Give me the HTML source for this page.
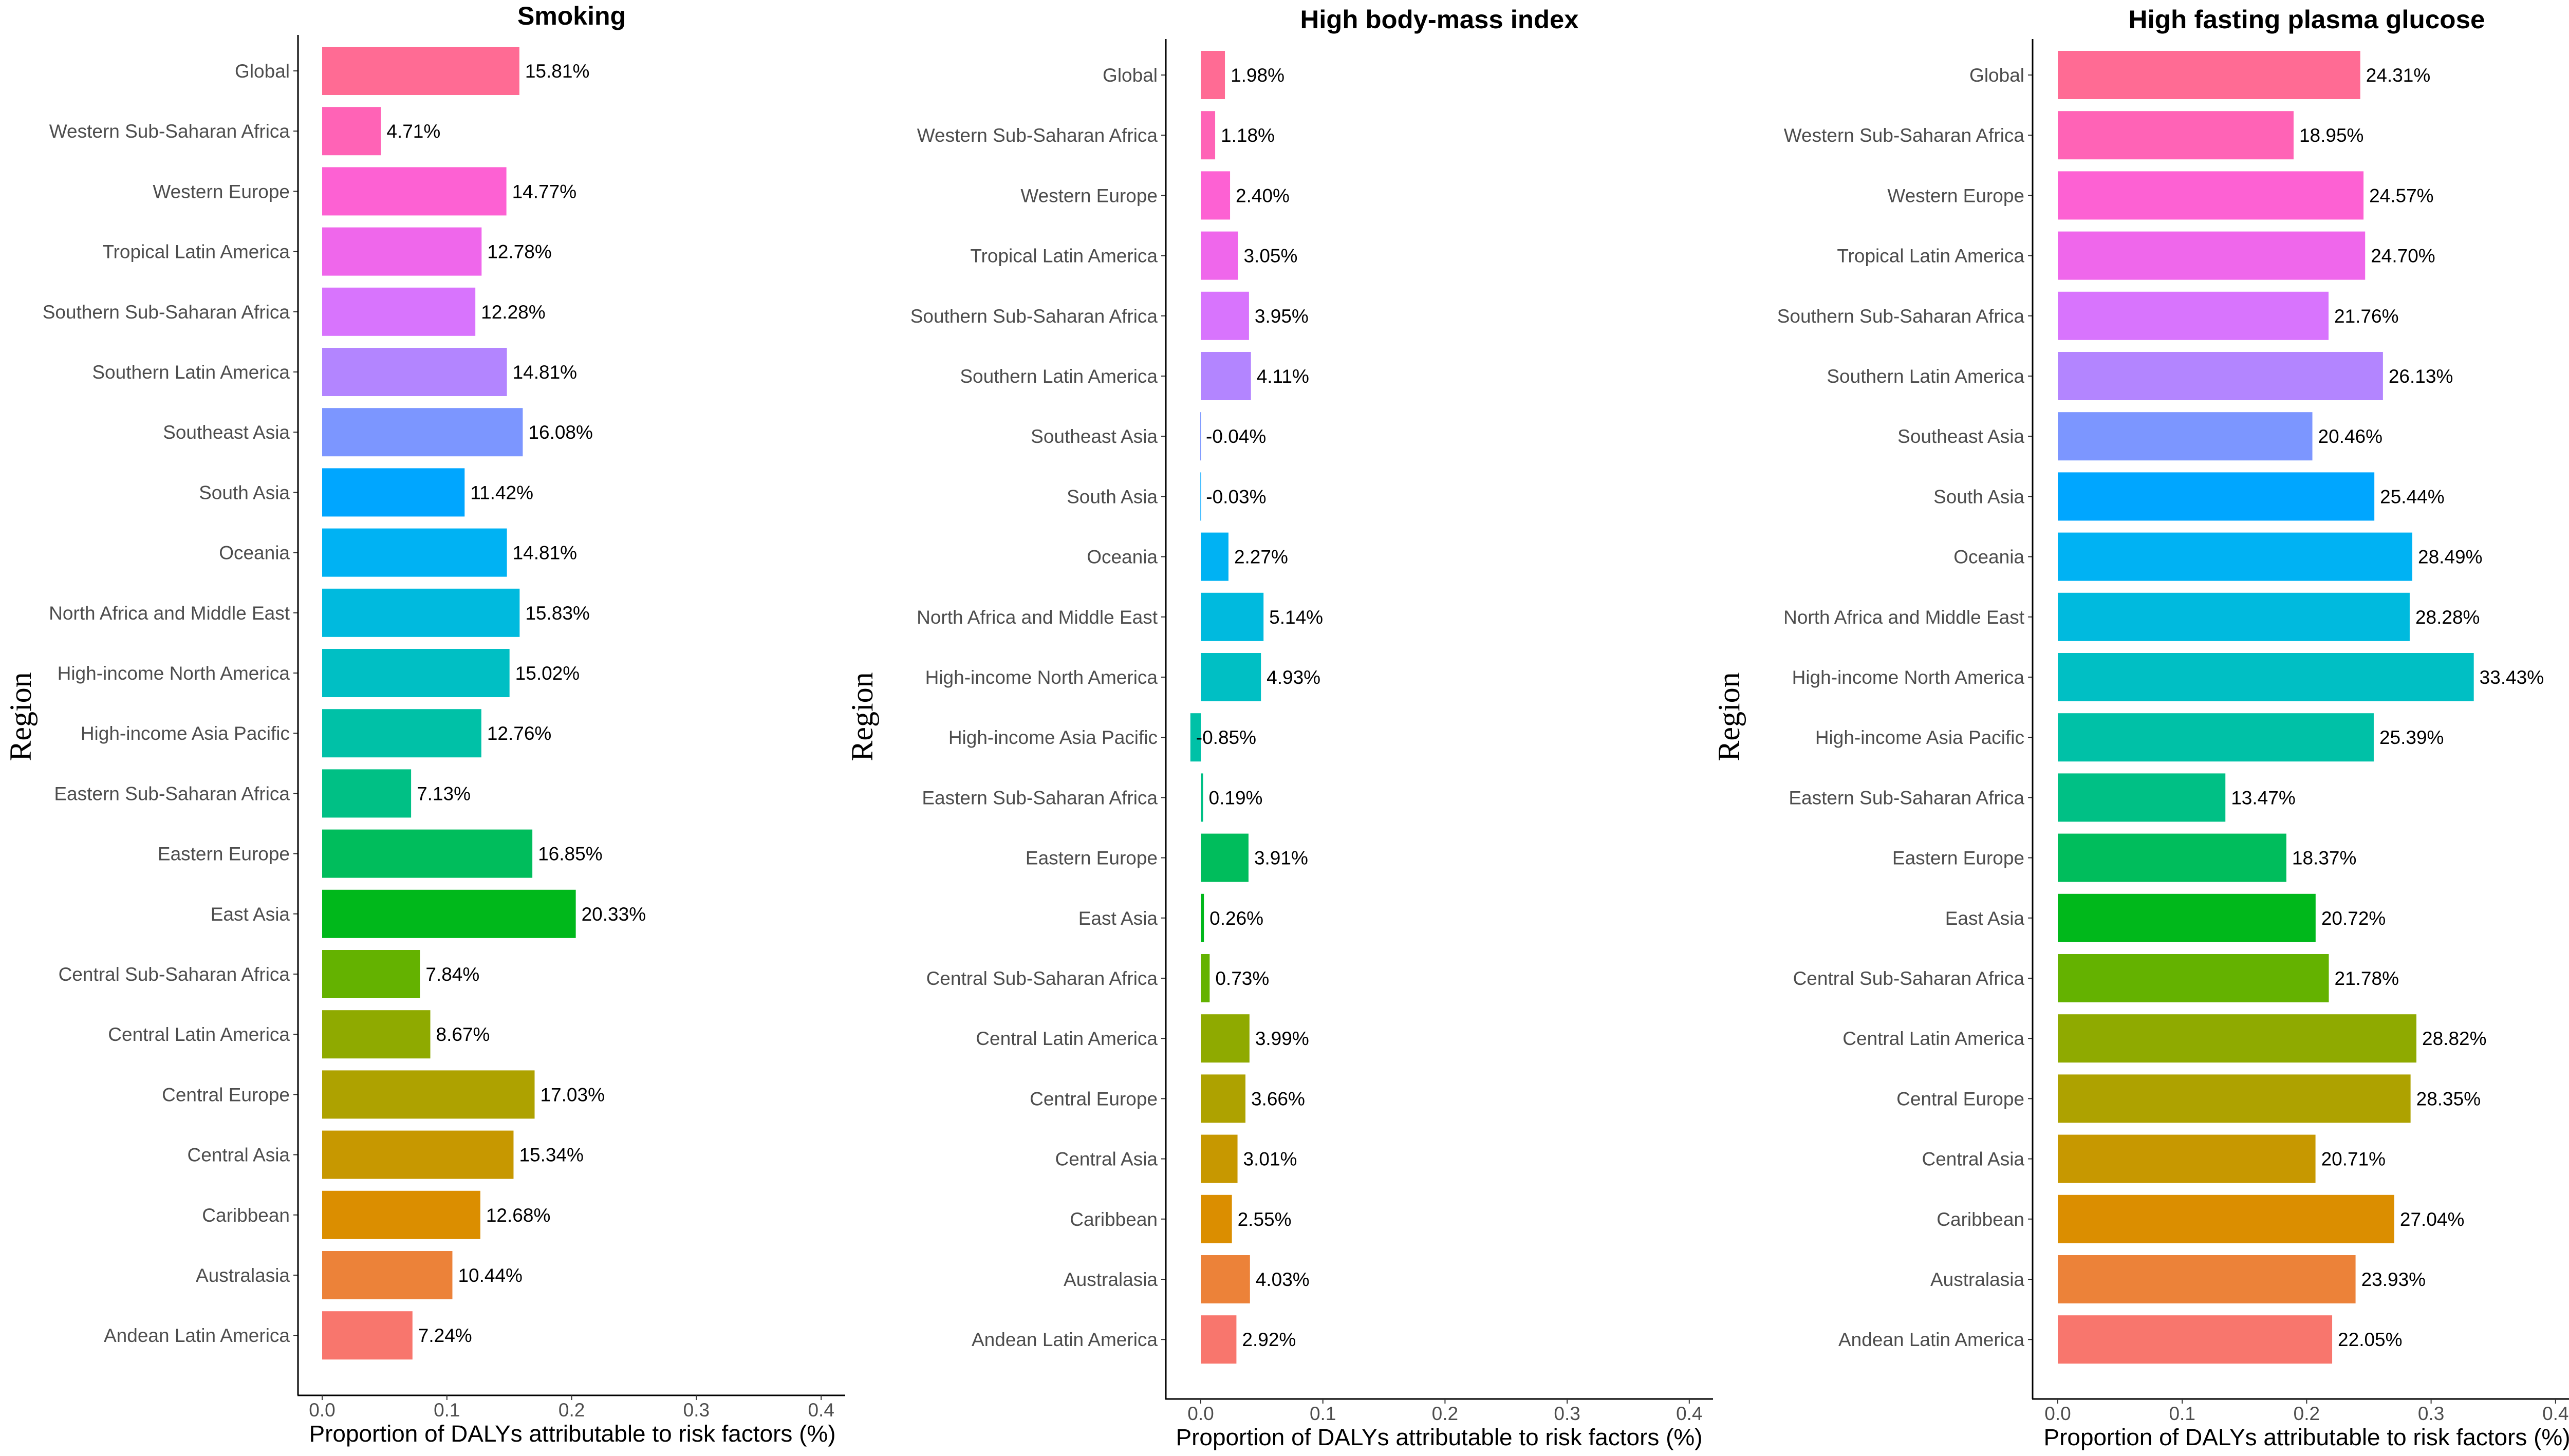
<!DOCTYPE html>
<html><head><meta charset="utf-8"><style>
html,body{margin:0;padding:0;background:#fff;}
svg{display:block;}
</style></head><body>
<svg id="chart" width="5033" height="2834" viewBox="0 0 5033 2834" xmlns="http://www.w3.org/2000/svg"></svg>
<script>
const categories = ["Global","Western Sub-Saharan Africa","Western Europe","Tropical Latin America","Southern Sub-Saharan Africa","Southern Latin America","Southeast Asia","South Asia","Oceania","North Africa and Middle East","High-income North America","High-income Asia Pacific","Eastern Sub-Saharan Africa","Eastern Europe","East Asia","Central Sub-Saharan Africa","Central Latin America","Central Europe","Central Asia","Caribbean","Australasia","Andean Latin America"];
const smokingValues = [15.81,4.71,14.77,12.78,12.28,14.81,16.08,11.42,14.81,15.83,15.02,12.76,7.13,16.85,20.33,7.84,8.67,17.03,15.34,12.68,10.44,7.24];
const bmiValues = [1.98,1.18,2.40,3.05,3.95,4.11,-0.04,-0.03,2.27,5.14,4.93,-0.85,0.19,3.91,0.26,0.73,3.99,3.66,3.01,2.55,4.03,2.92];
const glucoseValues = [24.31,18.95,24.57,24.70,21.76,26.13,20.46,25.44,28.49,28.28,33.43,25.39,13.47,18.37,20.72,21.78,28.82,28.35,20.71,27.04,23.93,22.05];
const panelTitles = ["Smoking","High body-mass index","High fasting plasma glucose"];
const xTicks = [0,0.1,0.2,0.3,0.4];
const xTickLabels = ["0.0","0.1","0.2","0.3","0.4"];

const NS = "http://www.w3.org/2000/svg";
const svg = document.getElementById('chart');
function mk(tag, attrs, parent){ const e=document.createElementNS(NS,tag); for(const k in attrs) e.setAttribute(k,attrs[k]); (parent||svg).appendChild(e); return e; }

function hcl(h){ const L=65,C=100; const hr=h*Math.PI/180; const u=C*Math.cos(hr), v=C*Math.sin(hr);
  const Xn=95.047,Yn=100,Zn=108.883; const d=Xn+15*Yn+3*Zn; const un=4*Xn/d, vn=9*Yn/d;
  const Y=Yn*Math.pow((L+16)/116,3); const up=u/(13*L)+un, vp=v/(13*L)+vn;
  const X=9*Y*up/(4*vp); const Z=-X/3-5*Y+3*Y/vp;
  const x=X/100,y=Y/100,z=Z/100;
  let r=3.240479*x-1.537150*y-0.498535*z, g=-0.969256*x+1.875992*y+0.041556*z, b=0.055648*x-0.204043*y+1.057311*z;
  const gm=c=>{c=c<=0.0031308?12.92*c:1.055*Math.pow(c,1/2.4)-0.055; return Math.max(0,Math.min(255,Math.round(c*255)));};
  return `rgb(${gm(r)},${gm(g)},${gm(b)})`; }
const n = categories.length;
const colors = categories.map((c,i)=>hcl(15 + (n-1-i)*360/n));

const panels = [
  {values:smokingValues, axisX:580, zeroX:627, unit:2428, right:1645, top:68, bottom:2716, first:138, titleY:48, tickY:2757, xTitleY:2806, xTitleC:1114, regionX:40},
  {values:bmiValues, axisX:2269, zeroX:2337, unit:2377, right:3334, top:76, bottom:2723, first:146, titleY:55, tickY:2764, xTitleY:2813, xTitleC:2801, regionX:1678},
  {values:glucoseValues, axisX:3956, zeroX:4005, unit:2422, right:5023, top:76, bottom:2723, first:146, titleY:55, tickY:2764, xTitleY:2813, xTitleC:4490, regionX:3365}
];
const titleWidths=[211,542,694];
const step = 117.2, barH = 94;

panels.forEach((p,pi)=>{
  const g = mk('g',{});
  
  
  const xs = v => p.zeroX + v*p.unit;
  const ys = i => p.first + i*step;
  const t = mk('text',{x:(p.axisX+p.right)/2, y:p.titleY, 'text-anchor':'middle', 'font-family':'Liberation Sans, sans-serif', 'font-weight':'bold', 'font-size':50, fill:'#000', textLength:titleWidths[pi], lengthAdjust:'spacingAndGlyphs'}, g);
  t.textContent = panelTitles[pi];
  
  
  p.values.forEach((val,i)=>{
    const v = val/100;
    const x0 = Math.min(xs(0), xs(v)), w = Math.max(Math.abs(xs(v)-xs(0)), 1.5);
    const r = mk('rect',{x:x0, y:ys(i)-barH/2, width:w, height:barH, fill:colors[i]}, g);
    
    
    const lb = mk('text',{x:xs(v)+11, y:ys(i)+13, 'font-family':'Liberation Sans, sans-serif', 'font-size':37, fill:'#000'}, g);
    lb.textContent = val.toFixed(2)+'%';
    
    
    const cl = mk('text',{x:p.axisX-16, y:ys(i)+13, 'text-anchor':'end', 'font-family':'Liberation Sans, sans-serif', 'font-size':37, fill:'#4d4d4d'}, g);
    cl.textContent = categories[i];
    
    
    const tk = mk('line',{x1:p.axisX-9, x2:p.axisX, y1:ys(i), y2:ys(i), stroke:'#333', 'stroke-width':2}, g);
    
    
  });
  const ya = mk('line',{x1:p.axisX, x2:p.axisX, y1:p.top, y2:p.bottom, stroke:'#000', 'stroke-width':3}, g);
  
  
  const xa = mk('line',{x1:p.axisX-1, x2:p.right, y1:p.bottom, y2:p.bottom, stroke:'#000', 'stroke-width':3}, g);
  
  
  xTicks.forEach((tv,k)=>{
    const tk = mk('line',{x1:xs(tv), x2:xs(tv), y1:p.bottom, y2:p.bottom+9, stroke:'#333', 'stroke-width':2}, g);
    
    
    const tl = mk('text',{x:xs(tv), y:p.tickY, 'text-anchor':'middle', 'font-family':'Liberation Sans, sans-serif', 'font-size':37, fill:'#4d4d4d'}, g);
    tl.textContent = xTickLabels[k];
    
    
  });
  const xt = mk('text',{x:p.xTitleC, y:p.xTitleY, 'text-anchor':'middle', 'font-family':'Liberation Sans, sans-serif', 'font-size':45, fill:'#000', textLength:1025, lengthAdjust:'spacingAndGlyphs'}, g);
  xt.textContent = 'Proportion of DALYs attributable to risk factors (%)';
  
  
  const rt = mk('text',{x:p.regionX+20, y:1395, 'text-anchor':'middle', 'font-family':'Liberation Serif, serif', 'font-size':60, fill:'#000', transform:`rotate(-90 ${p.regionX+20} 1395)`}, g);
  rt.textContent = 'Region';
  
  
});
</script>
</body></html>
